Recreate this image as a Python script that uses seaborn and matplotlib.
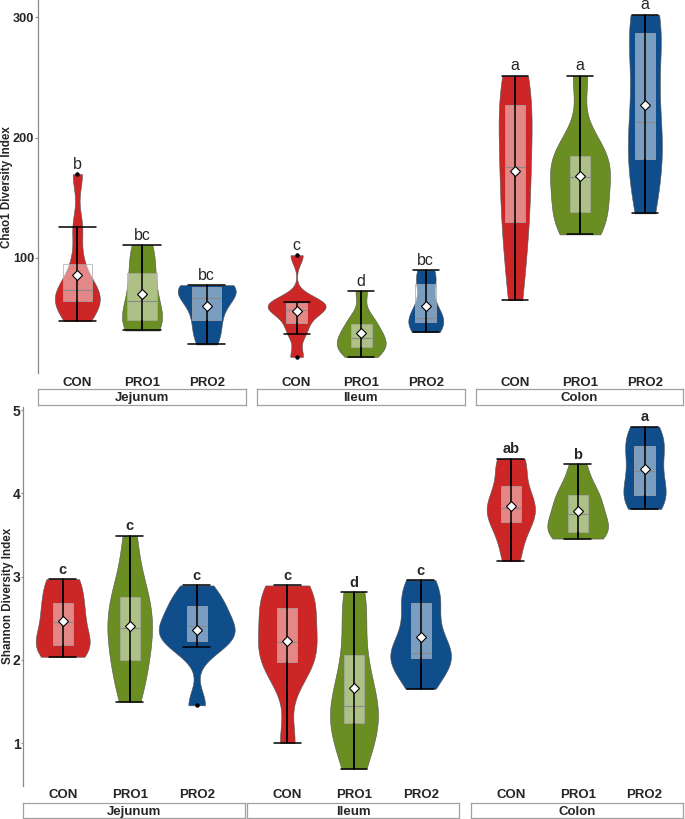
import numpy as np
import pandas as pd
import matplotlib
matplotlib.use("Agg")
import matplotlib.pyplot as plt
import seaborn as sns
from matplotlib import cbook

# ---------------- data ----------------
groups = ["CON", "PRO1", "PRO2"]
sites = ["Jejunum", "Ileum", "Colon"]
group_colors = ["#CD2626", "#6B8E23", "#104E8B"]

# Chao1 diversity (estimated per-sample values)
chao1_jejunum_con = [47.6, 55, 64, 67, 72.9, 74.2, 94.8, 125.3, 169.6]
chao1_jejunum_pro1 = [39.6, 43, 48.2, 52, 64.5, 78, 87.0, 105.3, 110.6]
chao1_jejunum_pro2 = [28, 37.8, 48.2, 58, 66.7, 73, 75.4, 76.5, 77.3]
chao1_ileum_con = [17.6, 36.8, 45.9, 56, 57, 61.6, 62.6, 63.4, 102.2]
chao1_ileum_pro1 = [17.6, 21, 26, 30, 33, 38, 44.8, 51.2, 72.3]
chao1_ileum_pro2 = [38.4, 42, 47, 48.5, 49.8, 60, 78.1, 84.6, 89.8]
chao1_colon_con = [64.8, 105, 130, 155, 175.7, 200, 227, 240.2, 251.2]
chao1_colon_pro1 = [119.5, 128, 138.3, 152, 167.4, 176, 184.9, 194.7, 251.2]
chao1_colon_pro2 = [137, 165, 181.9, 205, 213.1, 255, 287.2, 296.8, 302]

# Shannon diversity
shannon_jejunum_con = [2.038, 2.12, 2.174, 2.25, 2.45, 2.6, 2.682, 2.946, 2.97]
shannon_jejunum_pro1 = [1.499, 1.8, 1.998, 2.25, 2.386, 2.55, 2.754, 2.964, 3.489]
shannon_jejunum_pro2 = [1.455, 2.154, 2.226, 2.3, 2.402, 2.45, 2.642, 2.699, 2.894]
shannon_ileum_con = [1.003, 1.813, 1.97, 2.15, 2.214, 2.5, 2.622, 2.85, 2.894]
shannon_ileum_pro1 = [0.695, 1.0, 1.243, 1.35, 1.451, 1.75, 2.062, 2.566, 2.814]
shannon_ileum_pro2 = [1.655, 1.95, 2.022, 2.05, 2.082, 2.353, 2.682, 2.75, 2.958]
shannon_colon_con = [3.185, 3.45, 3.653, 3.75, 3.821, 3.95, 4.089, 4.363, 4.416]
shannon_colon_pro1 = [3.457, 3.5, 3.533, 3.62, 3.749, 3.85, 3.981, 4.062, 4.349]
shannon_colon_pro2 = [3.813, 3.9, 3.981, 4.1, 4.273, 4.45, 4.572, 4.712, 4.8]

chao1_letters_jejunum = ["b", "bc", "bc"]
chao1_letters_ileum = ["c", "d", "bc"]
chao1_letters_colon = ["a", "a", "a"]
shannon_letters_jejunum = ["c", "c", "c"]
shannon_letters_ileum = ["c", "d", "c"]
shannon_letters_colon = ["ab", "b", "a"]

chao1_ticks = [100, 200, 300]
shannon_ticks = [1, 2, 3, 4, 5]

chao1 = {
    "Jejunum": [chao1_jejunum_con, chao1_jejunum_pro1, chao1_jejunum_pro2],
    "Ileum": [chao1_ileum_con, chao1_ileum_pro1, chao1_ileum_pro2],
    "Colon": [chao1_colon_con, chao1_colon_pro1, chao1_colon_pro2],
}
shannon = {
    "Jejunum": [shannon_jejunum_con, shannon_jejunum_pro1, shannon_jejunum_pro2],
    "Ileum": [shannon_ileum_con, shannon_ileum_pro1, shannon_ileum_pro2],
    "Colon": [shannon_colon_con, shannon_colon_pro1, shannon_colon_pro2],
}
chao1_letters = {"Jejunum": chao1_letters_jejunum, "Ileum": chao1_letters_ileum,
                 "Colon": chao1_letters_colon}
shannon_letters = {"Jejunum": shannon_letters_jejunum, "Ileum": shannon_letters_ileum,
                   "Colon": shannon_letters_colon}

# ---------------- style ----------------
sns.set_style("white")
plt.rcParams["font.family"] = ["Liberation Sans", "DejaVu Sans"]

W, H = 685, 819
fig = plt.figure(figsize=(W / 100, H / 100), dpi=100)
fig.patch.set_facecolor("white")


def px_axes(x0, y0, x1, y1):
    return fig.add_axes([x0 / W, 1 - y1 / H, (x1 - x0) / W, (y1 - y0) / H])


def nrd0_factor(v):
    v = np.asarray(v, float)
    sd = v.std(ddof=1)
    q75, q25 = np.percentile(v, [75, 25])
    bw = 0.9 * min(sd, (q75 - q25) / 1.34) * len(v) ** -0.2
    return bw / sd


def whisker_span(v):
    st = cbook.boxplot_stats(np.asarray(v, float))[0]
    return st["whislo"], st["whishi"]


def draw_panel(ax, ax_px_w, values, letters, xlim, ylim, vwidth_px, box_w, cap_w,
               letter_kw):
    spacing = ax_px_w / (xlim[1] - xlim[0])
    for g, v, col, wpx in zip(groups, values, group_colors, vwidth_px):
        sns.violinplot(x=[g] * len(v), y=v, order=groups, color=col,
                       width=wpx / spacing, density_norm="width", cut=0,
                       inner=None, bw_method=nrd0_factor(v), linewidth=0.4,
                       linecolor="#555555", saturation=1, ax=ax)
    df = pd.DataFrame({
        "group": np.repeat(groups, [len(v) for v in values]),
        "value": np.concatenate([np.asarray(v, float) for v in values]),
    })
    sns.boxplot(data=df, x="group", y="value", order=groups, width=box_w,
                color="white", whis=1.5, showmeans=True, capwidths=cap_w,
                boxprops=dict(facecolor=(1, 1, 1, 0.45), edgecolor="#a8a8a8",
                              linewidth=0.5),
                medianprops=dict(color="#8a8a8a", linewidth=0.8),
                whiskerprops=dict(color="black", linewidth=1.1),
                capprops=dict(color="black", linewidth=1.1),
                flierprops=dict(marker="o", markersize=2.2, markerfacecolor="black",
                                markeredgecolor="black"),
                meanprops=dict(marker="D", markersize=5, markerfacecolor="white",
                               markeredgecolor="black", markeredgewidth=0.8,
                               zorder=6),
                ax=ax)
    sns.pointplot(data=df, x="group", y="value", order=groups, estimator="median",
                  errorbar=whisker_span, linestyle="none", marker="",
                  color="black", err_kws={"linewidth": 1.1, "zorder": 5},
                  capsize=0, ax=ax)
    for i, (v, lab) in enumerate(zip(values, letters)):
        ax.annotate(lab, xy=(i, max(v)), xytext=(0, 4.0), textcoords="offset points",
                    ha="center", va="baseline", annotation_clip=False, **letter_kw)
    ax.set_xlim(*xlim)
    ax.set_ylim(*ylim)
    ax.set_xlabel("")
    ax.set_ylabel("")
    ax.set_xticks(range(len(groups)))
    ax.set_xticklabels(groups, fontweight="bold", fontsize=9.5)
    ax.tick_params(axis="x", length=0, pad=2.5)
    for s in ax.spines.values():
        s.set_visible(False)


def strip(x0, x1, y0, y1, label):
    sax = px_axes(x0, y0, x1, y1)
    sax.set_facecolor("white")
    sax.set_xticks([])
    sax.set_yticks([])
    for s in sax.spines.values():
        s.set_color("#a0a0a0")
        s.set_linewidth(0.9)
    sax.text(0.5, 0.45, label, ha="center", va="center", fontweight="bold",
             fontsize=9.5, transform=sax.transAxes)


rows = [
    dict(data=chao1, letters=chao1_letters, ticks=chao1_ticks,
         label="Chao1 Diversity Index", y0=0, y1=373.3, ylim=(4.0, 314.4),
         panels=[(38.3, 246), (256.7, 465), (476, 682.7)],
         xlims=[(-0.603, 2.607), (-0.618, 2.607), (-0.603, 2.583)],
         strip_y=(389.3, 405.3),
         vwidth=[[45, 40, 58], [58, 49, 35], [33, 60, 34]],
         box_w=[0.45, 0.33, 0.30], cap_w=[0.58, 0.40, 0.40],
         label_x=-0.121, tick_len=2.0, tick_pad=1.0, tick_size=9.2,
         letter_kw=dict(fontsize=11.5)),
    dict(data=shannon, letters=shannon_letters, ticks=shannon_ticks,
         label="Shannon Diversity Index", y0=406.7, y1=785.7, ylim=(0.49, 5.04),
         panels=[(23.3, 245), (247.3, 459.3), (470.7, 683.3)],
         xlims=[(-0.588, 2.721), (-0.6, 2.58), (-0.6, 2.58)],
         strip_y=(803.3, 818.3),
         vwidth=[[54, 44.7, 76], [58.7, 48, 60.7], [48.3, 60.7, 42.3]],
         box_w=[0.30, 0.30, 0.30], cap_w=[0.40, 0.40, 0.40],
         label_x=-0.044, tick_len=1.5, tick_pad=0.6, tick_size=10,
         letter_kw=dict(fontsize=10.5, fontweight="bold")),
]

for row in rows:
    for j, site in enumerate(sites):
        x0, x1 = row["panels"][j]
        ax = px_axes(x0, row["y0"], x1, row["y1"])
        ax.set_facecolor("none")
        draw_panel(ax, x1 - x0, row["data"][site], row["letters"][site],
                   row["xlims"][j], row["ylim"], row["vwidth"][j],
                   row["box_w"][j], row["cap_w"][j], row["letter_kw"])
        if j == 0:
            ax.spines["left"].set_visible(True)
            ax.spines["left"].set_color("#8a8a8a")
            ax.spines["left"].set_linewidth(0.9)
            ax.set_yticks(row["ticks"])
            ax.set_yticklabels([str(t) for t in row["ticks"]], fontweight="bold",
                               fontsize=row["tick_size"])
            ax.tick_params(axis="y", length=row["tick_len"], width=0.8,
                           color="#8a8a8a", pad=row["tick_pad"], left=True)
            ax.set_ylabel(row["label"], fontweight="bold", fontsize=8.4)
            ax.yaxis.set_label_coords(row["label_x"], 0.5)
        else:
            ax.set_yticks([])
        strip(x0, x1, row["strip_y"][0], row["strip_y"][1], site)

fig.savefig("out.png", dpi=100, facecolor="white")
